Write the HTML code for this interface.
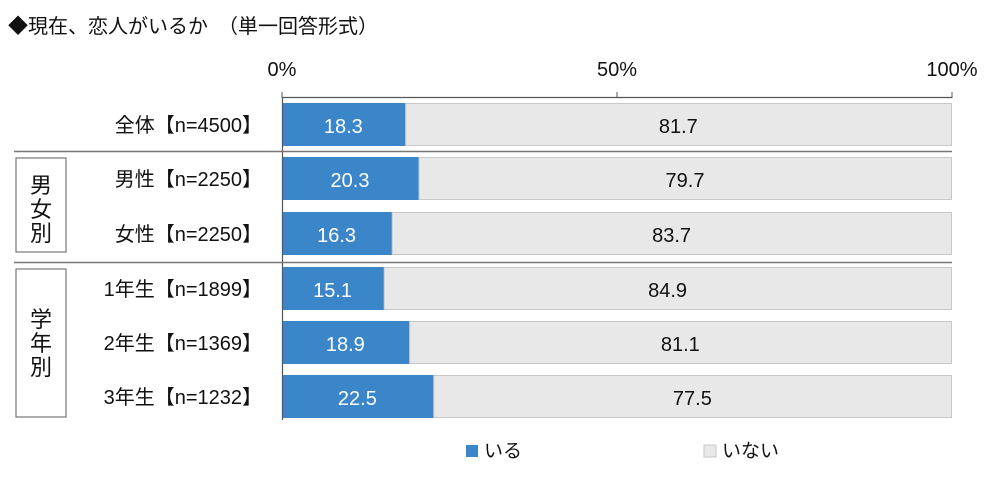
<!DOCTYPE html>
<html><head><meta charset="utf-8"><style>
body{margin:0;background:#fff;}
svg text{font-family:"Liberation Sans","Noto Sans CJK JP",sans-serif;}
</style></head><body>
<svg width="1000" height="476" viewBox="0 0 1000 476">
<text x="8" y="33" font-size="20" fill="#111">◆現在、恋人がいるか　（単一回答形式）</text>
<g id="axis"></g>
<g id="bars"></g>
<line x1="14" y1="151.5" x2="952" y2="151.5" stroke="#777" stroke-width="1.5"/>
<line x1="14" y1="262.5" x2="952" y2="262.5" stroke="#777" stroke-width="1.5"/>
<rect x="16" y="158" width="50" height="94" fill="#fff" stroke="#777" stroke-width="1.2"/>
<text x="41" y="193" font-size="22" text-anchor="middle" fill="#111"><tspan x="41">男</tspan><tspan x="41" dy="24">女</tspan><tspan x="41" dy="24">別</tspan></text>
<rect x="16" y="269" width="50" height="148" fill="#fff" stroke="#777" stroke-width="1.2"/>
<text x="41" y="327" font-size="22" text-anchor="middle" fill="#111"><tspan x="41">学</tspan><tspan x="41" dy="24">年</tspan><tspan x="41" dy="24">別</tspan></text>
<rect x="466" y="445" width="12" height="12" fill="#3a86c8"/>
<text x="484" y="457" font-size="19" fill="#111">いる</text>
<rect x="704" y="445" width="12" height="12" fill="#e8e8e8" stroke="#c8c8c8"/>
<text x="722" y="457" font-size="19" fill="#111">いない</text>
</svg>
<script>
const categories=["全体【n=4500】","男性【n=2250】","女性【n=2250】","1年生【n=1899】","2年生【n=1369】","3年生【n=1232】"];
const iru=[18.3,20.3,16.3,15.1,18.9,22.5];
const inai=[81.7,79.7,83.7,84.9,81.1,77.5];
const ticks=[0,50,100];
const tickLabels=["0%","50%","100%"];
const NS="http://www.w3.org/2000/svg";
const x0=282,x1=952;
const xs=v=>x0+(x1-x0)*v/100;
const rowY=[103,157,212,267,321,375];
const barH=43;
function mk(tag,attrs,parent){const e=document.createElementNS(NS,tag);for(const k in attrs)e.setAttribute(k,attrs[k]);parent.appendChild(e);return e;}
const ax=document.getElementById('axis');
let l=mk('line',{x1:x0,y1:97.5,x2:x1,y2:97.5,stroke:'#555','stroke-width':1.2},ax);


l=mk('line',{x1:x0+0.5,y1:97,x2:x0+0.5,y2:420,stroke:'#555','stroke-width':1.2},ax);


ticks.forEach((t,i)=>{
 const tl=mk('line',{x1:xs(t),y1:92,x2:xs(t),y2:98,stroke:'#555'},ax);
 
 
 const tx=mk('text',{x:xs(t),y:76,'font-size':20,'text-anchor':'middle',fill:'#111'},ax);
 tx.textContent=tickLabels[i];
 
 
});
const g=document.getElementById('bars');
categories.forEach((c,i)=>{
 const y=rowY[i];
 const lab=mk('text',{x:262,y:y+29,'font-size':20,'text-anchor':'end',fill:'#111'},g);
 lab.textContent=c;
 
 
 const a=mk('rect',{x:xs(0)+1,y:y,width:xs(iru[i])-xs(0),height:barH,fill:'#3a86c8'},g);
 
 
 const b=mk('rect',{x:xs(iru[i])+1,y:y+0.5,width:xs(iru[i]+inai[i])-xs(iru[i])-1.5,height:barH-1,fill:'#e8e8e8',stroke:'#c8c8c8'},g);
 
 
 const t1=mk('text',{x:(xs(0)+xs(iru[i]))/2,y:y+30,'font-size':20,'text-anchor':'middle',fill:'#fff'},g);
 t1.textContent=iru[i].toFixed(1);
 
 
 const t2=mk('text',{x:(xs(iru[i])+xs(iru[i]+inai[i]))/2,y:y+30,'font-size':20,'text-anchor':'middle',fill:'#111'},g);
 t2.textContent=inai[i].toFixed(1);
 
 
});
</script>
</body></html>
